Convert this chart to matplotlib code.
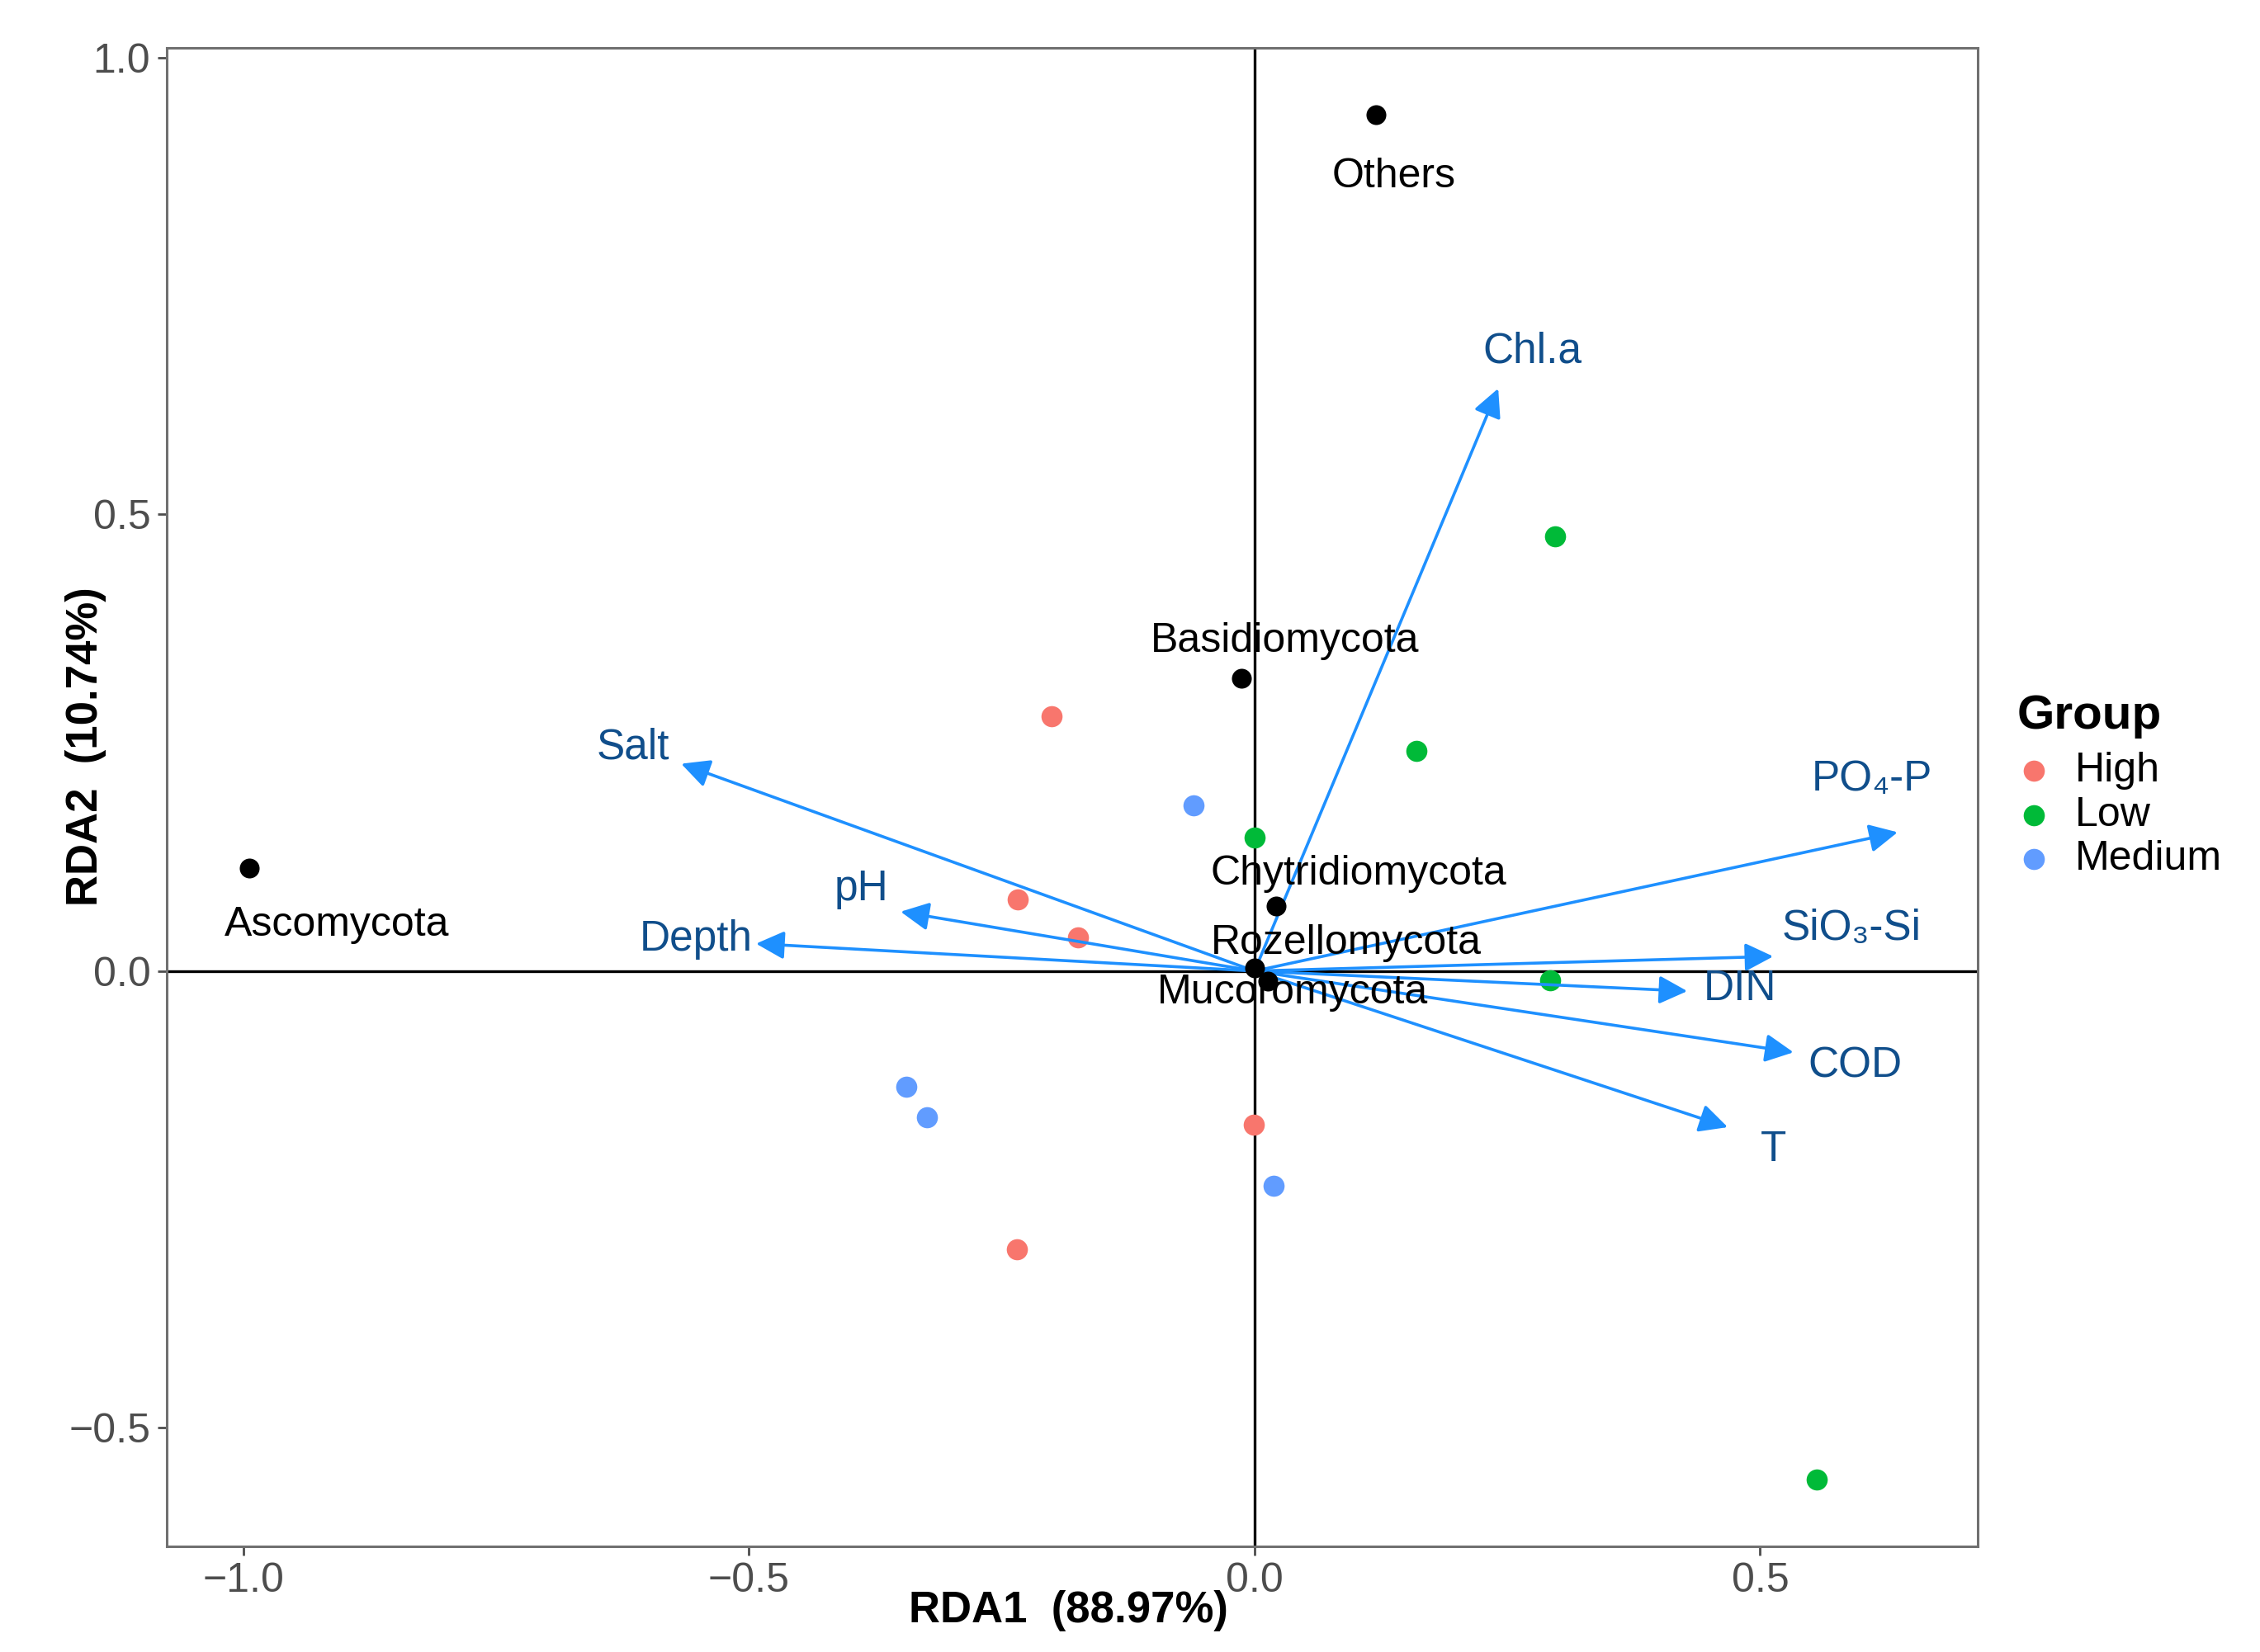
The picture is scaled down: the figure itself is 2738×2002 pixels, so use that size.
import matplotlib
matplotlib.use("Agg")
import matplotlib.pyplot as plt

plt.rcParams['font.family'] = ['Liberation Sans', 'DejaVu Sans']

# Siti (punti campione) per gruppo
high_x = [-0.201, -0.234, -0.175, -0.001, -0.235]
high_y = [0.279, 0.078, 0.037, -0.168, -0.305]
low_x = [0.297, 0.160, 0.000, 0.292, 0.556]
low_y = [0.476, 0.241, 0.146, -0.010, -0.557]
medium_x = [-0.060, -0.344, -0.324, 0.019]
medium_y = [0.181, -0.127, -0.160, -0.235]

# Phyla (punti neri)
phyla = ["Others", "Basidiomycota", "Ascomycota", "Chytridiomycota", "Rozellomycota", "Mucoromycota"]
phyla_x = [0.120, -0.013, -0.994, 0.021, 0.000, 0.013]
phyla_y = [0.938, 0.321, 0.113, 0.071, 0.003, -0.011]

# Variabili ambientali (frecce)
env = ["Chl.a", "Salt", "pH", "Depth", "PO\u2084-P", "SiO\u2083-Si", "DIN", "COD", "T"]
env_x = [0.241, -0.567, -0.350, -0.493, 0.636, 0.513, 0.428, 0.533, 0.468]
env_y = [0.638, 0.227, 0.065, 0.030, 0.152, 0.016, -0.022, -0.089, -0.171]

# offset etichette (punti)
phyla_off = [(8, -27), (19, 16), (38, -25), (36, 14), (40, 11), (11, -5)]
env_off = [(15, 16), (-21, 7), (-17, 10), (-26, 2), (-11, 23), (34, 12), (23, 1), (27, -6), (20, -10)]

fig = plt.figure(figsize=(13.69, 10.01), dpi=200)
ax = fig.add_axes([0.0737, 0.064, 0.8013, 0.907])

ax.axhline(0, color="black", lw=1.2, zorder=1)
ax.axvline(0, color="black", lw=1.2, zorder=1)

ax.scatter(high_x, high_y, s=85, color="#F8766D", label="High", zorder=3, linewidths=0)
ax.scatter(low_x, low_y, s=85, color="#00BA38", label="Low", zorder=3, linewidths=0)
ax.scatter(medium_x, medium_y, s=85, color="#619CFF", label="Medium", zorder=3, linewidths=0)

for x, y in zip(env_x, env_y):
    ax.annotate("", xy=(x, y), xytext=(0, 0),
                arrowprops=dict(arrowstyle="-|>", color="#1E90FF", lw=1.3,
                                mutation_scale=26, shrinkA=0, shrinkB=0),
                zorder=4)
for name, x, y, off in zip(env, env_x, env_y, env_off):
    ax.annotate(name, xy=(x, y), xytext=off, textcoords="offset points",
                ha="center", va="center", fontsize=18.5, color="#104E8B", zorder=5)

ax.scatter(phyla_x, phyla_y, s=75, color="black", zorder=5, linewidths=0)
for name, x, y, off in zip(phyla, phyla_x, phyla_y, phyla_off):
    ax.annotate(name, xy=(x, y), xytext=off, textcoords="offset points",
                ha="center", va="center", fontsize=18, color="black", zorder=6)

ax.set_xlim(-1.076, 0.715)
ax.set_ylim(-0.630, 1.011)
ax.set_xticks([-1.0, -0.5, 0.0, 0.5])
ax.set_yticks([-0.5, 0.0, 0.5, 1.0])
ax.set_xticklabels(["\u22121.0", "\u22120.5", "0.0", "0.5"])
ax.set_yticklabels(["\u22120.5", "0.0", "0.5", "1.0"])
ax.tick_params(labelsize=18, colors="#4D4D4D", length=4, width=1, pad=3)
for sp in ax.spines.values():
    sp.set_color("#707070")
    sp.set_linewidth(1.1)

ax.set_xlabel("RDA1  (88.97%)", fontsize=19, fontweight="bold")
ax.set_ylabel("RDA2  (10.74%)", fontsize=19, fontweight="bold")
ax.xaxis.set_label_coords(0.498, -0.029)
ax.yaxis.set_label_coords(-0.033, 0.534)

leg = ax.legend(title="Group", loc="upper left", bbox_to_anchor=(1.022, 0.569),
                frameon=False, fontsize=18, title_fontsize=21,
                handlelength=0.8, handletextpad=0.6, labelspacing=0.15,
                borderaxespad=0, borderpad=0, alignment="left")
leg.get_title().set_fontweight("bold")
leg._legend_box.sep = 6

fig.savefig("out.png", dpi=200)
